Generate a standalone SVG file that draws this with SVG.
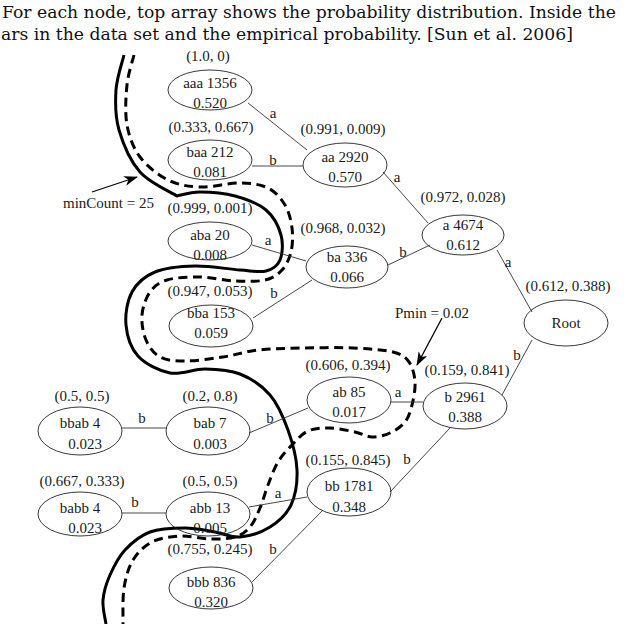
<svg xmlns="http://www.w3.org/2000/svg" width="640" height="624" viewBox="0 0 640 624">
<style>
.hdr{font-family:"DejaVu Serif","Liberation Serif",serif;font-size:17.2px;fill:#111}
.t{font-family:"Liberation Serif","Times New Roman",serif;font-size:15px;fill:#1a1a1a;text-anchor:middle}
.ann{font-family:"Liberation Serif","Times New Roman",serif;font-size:15px;fill:#1a1a1a}
.node ellipse{fill:none;stroke:#222;stroke-width:0.9}
.edge{stroke:#333;stroke-width:0.9;fill:none}
.thick{fill:none;stroke:#000;stroke-width:3;stroke-linecap:butt}
.dash{stroke-dasharray:9 5.5}
.arr{stroke:#000;stroke-width:1.3;fill:none;marker-end:url(#ah)}
</style>
<defs>
<marker id="ah" viewBox="0 0 14 10" refX="13" refY="5" markerWidth="14" markerHeight="10" markerUnits="userSpaceOnUse" orient="auto">
<path d="M0,0 L14,5 L0,10 L4,5 Z" fill="#000"/>
</marker>
</defs>
<rect width="640" height="624" fill="#fff"/>
<g id="caption">
<text class="hdr" x="2" y="18">For each node, top array shows the probability distribution. Inside the</text>
<text class="hdr" x="1" y="40">ars in the data set and the empirical probability. [Sun et al. 2006]</text>
</g>
<g id="boundaries">
<path class="thick" d="M124,55 C122.7,60.8 116.8,77.5 116,90 C115.2,102.5 115,116.3 119,130 C123,143.7 130.3,161 140,172 C149.7,183 170.8,192 177,196 C180.8,195.3 190.3,192 200,192 C209.7,192 224,193 235,196 C246,199 258.3,203.5 266,210 C273.7,216.5 278.7,226.7 281,235 C283.3,243.3 282.5,254 280,260 C277.5,266 272.7,269.3 266,271 C259.3,272.7 251.8,270.8 240,270 C228.2,269.2 209.2,265.7 195,266 C180.8,266.3 165.5,267.7 155,272 C144.5,276.3 136.8,283.2 132,292 C127.2,300.8 125,314.3 126,325 C127,335.7 130.7,348 138,356 C145.3,364 158.8,370.8 170,373 C181.2,375.2 193.3,368.8 205,369 C216.7,369.2 229.2,369.7 240,374 C250.8,378.3 262,385.7 270,395 C278,404.3 283.5,417.5 288,430 C292.5,442.5 296.5,457.5 297,470 C297.5,482.5 295.5,495.5 291,505 C286.5,514.5 278.5,521.7 270,527 C261.5,532.3 249.2,536.2 240,537 C230.8,537.8 224.2,533.5 215,532 C205.8,530.5 195.8,528 185,528 C174.2,528 160,528.3 150,532 C140,535.7 131.7,542.8 125,550 C118.3,557.2 113.7,566.7 110,575 C106.3,583.3 103.7,591.8 103,600 C102.3,608.2 105.5,620 106,624"/>
<path class="thick dash" d="M134,55 C132.8,60 128.2,73.3 127,85 C125.8,96.7 124.8,113 127,125 C129.2,137 133.2,147.8 140,157 C146.8,166.2 158,175 168,180 C178,185 188,186.5 200,187 C212,187.5 228.7,182.8 240,183 C251.3,183.2 260.5,184.3 268,188 C275.5,191.7 281,198.3 285,205 C289,211.7 291,220.2 292,228 C293,235.8 292.7,245 291,252 C289.3,259 286.3,265.3 282,270 C277.7,274.7 272.8,278.2 265,280 C257.2,281.8 245.8,281.5 235,281 C224.2,280.5 211.3,277.2 200,277 C188.7,276.8 175.3,277.5 167,280 C158.7,282.5 154.2,286.2 150,292 C145.8,297.8 142.7,307 142,315 C141.3,323 143,333 146,340 C149,347 153.5,353.5 160,357 C166.5,360.5 174.5,361 185,361 C195.5,361 210.8,358.8 223,357 C235.2,355.2 244.7,351.5 258,350 C271.3,348.5 287.2,348.3 303,348 C318.8,347.7 338,347.3 353,348 C368,348.7 383.7,349.7 393,352 C402.3,354.3 405.3,357 409,362 C412.7,367 414.5,374.8 415,382 C415.5,389.2 413.7,398.3 412,405 C410.3,411.7 408.7,417.3 405,422 C401.3,426.7 395.5,430.5 390,433 C384.5,435.5 377.8,437.2 372,437 C366.2,436.8 362,433.5 355,432 C348,430.5 337.8,428.2 330,428 C322.2,427.8 314.3,428.2 308,431 C301.7,433.8 297,439.8 292,445 C287,450.2 282,455.3 278,462 C274,468.7 271,477.3 268,485 C265,492.7 263,501 260,508 C257,515 254.2,522.2 250,527 C245.8,531.8 241.7,535 235,537 C228.3,539 219.2,539.2 210,539 C200.8,538.8 189.7,535.5 180,536 C170.3,536.5 159.8,538 152,542 C144.2,546 137.7,552.3 133,560 C128.3,567.7 125.7,577.3 124,588 C122.3,598.7 123.2,618 123,624"/>
</g>
<g id="annotations">
<line class="arr" x1="92" y1="192" x2="137" y2="177"/>
<text class="ann" x="63" y="208">minCount = 25</text>
<line class="arr" x1="442" y1="318" x2="417" y2="365"/>
<text class="ann" x="395" y="318">Pmin = 0.02</text>
</g>
<g id="connectors">
<line class="edge" x1="248" y1="103" x2="307" y2="150"/>
<text class="t" x="273" y="118">a</text>
<line class="edge" x1="252" y1="166" x2="303" y2="166"/>
<text class="t" x="273" y="165">b</text>
<line class="edge" x1="383" y1="172" x2="428" y2="223"/>
<text class="t" x="397" y="182">a</text>
<line class="edge" x1="388" y1="265" x2="430" y2="245"/>
<text class="t" x="403" y="257">b</text>
<line class="edge" x1="497" y1="250" x2="532" y2="312"/>
<text class="t" x="508" y="267">a</text>
<line class="edge" x1="532" y1="340" x2="502" y2="395"/>
<text class="t" x="517" y="360">b</text>
<line class="edge" x1="252" y1="245" x2="306" y2="261"/>
<text class="t" x="268" y="245">a</text>
<line class="edge" x1="253" y1="318" x2="312" y2="280"/>
<text class="t" x="274" y="298">b</text>
<line class="edge" x1="249" y1="433" x2="308" y2="408"/>
<text class="t" x="270" y="423">b</text>
<line class="edge" x1="122" y1="428" x2="167" y2="428"/>
<text class="t" x="142" y="423">b</text>
<line class="edge" x1="122" y1="513" x2="166" y2="513"/>
<text class="t" x="135" y="507">b</text>
<line class="edge" x1="249" y1="507" x2="307" y2="497"/>
<text class="t" x="278" y="498">a</text>
<line class="edge" x1="252" y1="582" x2="323" y2="510"/>
<text class="t" x="273" y="554">b</text>
<line class="edge" x1="391" y1="402" x2="423" y2="402"/>
<text class="t" x="398" y="397">a</text>
<line class="edge" x1="390" y1="492" x2="450" y2="428"/>
<text class="t" x="407" y="464">b</text>
</g>
<g id="n-aaa" class="node"><ellipse cx="210" cy="90" rx="42" ry="20"/><text class="t" x="208" y="61">(1.0, 0)</text><text class="t" x="210" y="88">aaa 1356</text><text class="t" x="210" y="108">0.520</text></g>
<g id="n-baa" class="node"><ellipse cx="210" cy="160" rx="42" ry="20"/><text class="t" x="211" y="132">(0.333, 0.667)</text><text class="t" x="210" y="157">baa 212</text><text class="t" x="210" y="177">0.081</text></g>
<g id="n-aba" class="node"><ellipse cx="210" cy="241" rx="42" ry="19"/><text class="t" x="210" y="213">(0.999, 0.001)</text><text class="t" x="210" y="240">aba 20</text><text class="t" x="210" y="260">0.008</text></g>
<g id="n-bba" class="node"><ellipse cx="211" cy="326" rx="42" ry="21"/><text class="t" x="210" y="296">(0.947, 0.053)</text><text class="t" x="211" y="318">bba 153</text><text class="t" x="211" y="338">0.059</text></g>
<g id="n-aa" class="node"><ellipse cx="345" cy="165" rx="42" ry="22"/><text class="t" x="343" y="134">(0.991, 0.009)</text><text class="t" x="345" y="162">aa 2920</text><text class="t" x="345" y="182">0.570</text></g>
<g id="n-ba" class="node"><ellipse cx="347" cy="267" rx="41" ry="21"/><text class="t" x="343" y="233">(0.968, 0.032)</text><text class="t" x="347" y="262">ba 336</text><text class="t" x="347" y="282">0.066</text></g>
<g id="n-a" class="node"><ellipse cx="463" cy="235" rx="41" ry="20"/><text class="t" x="463" y="202">(0.972, 0.028)</text><text class="t" x="463" y="230">a 4674</text><text class="t" x="463" y="250">0.612</text></g>
<g id="n-root" class="node"><ellipse cx="566" cy="323" rx="42" ry="23"/><text class="t" x="568" y="291">(0.612, 0.388)</text><text class="t" x="566" y="328">Root</text></g>
<g id="n-b" class="node"><ellipse cx="465" cy="406" rx="42" ry="23"/><text class="t" x="467" y="375">(0.159, 0.841)</text><text class="t" x="465" y="402">b 2961</text><text class="t" x="465" y="422">0.388</text></g>
<g id="n-ab" class="node"><ellipse cx="349" cy="400" rx="42" ry="23"/><text class="t" x="348" y="370">(0.606, 0.394)</text><text class="t" x="349" y="397">ab 85</text><text class="t" x="349" y="417">0.017</text></g>
<g id="n-bb" class="node"><ellipse cx="349" cy="492" rx="42" ry="24"/><text class="t" x="348" y="465">(0.155, 0.845)</text><text class="t" x="349" y="491">bb 1781</text><text class="t" x="349" y="512">0.348</text></g>
<g id="n-bbab" class="node"><ellipse cx="80" cy="431" rx="42" ry="24"/><text class="t" x="82" y="401">(0.5, 0.5)</text><text class="t" x="80" y="428">bbab 4</text><text class="t" x="85" y="449">0.023</text></g>
<g id="n-bab" class="node"><ellipse cx="208" cy="431" rx="42" ry="24"/><text class="t" x="210" y="401">(0.2, 0.8)</text><text class="t" x="210" y="428">bab 7</text><text class="t" x="210" y="449">0.003</text></g>
<g id="n-babb" class="node"><ellipse cx="80" cy="514" rx="42" ry="22"/><text class="t" x="82" y="486">(0.667, 0.333)</text><text class="t" x="80" y="513">babb 4</text><text class="t" x="85" y="533">0.023</text></g>
<g id="n-abb" class="node"><ellipse cx="208" cy="514" rx="42" ry="22"/><text class="t" x="210" y="486">(0.5, 0.5)</text><text class="t" x="210" y="513">abb 13</text><text class="t" x="210" y="533">0.005</text></g>
<g id="n-bbb" class="node"><ellipse cx="211" cy="588" rx="42" ry="21"/><text class="t" x="210" y="554">(0.755, 0.245)</text><text class="t" x="211" y="587">bbb 836</text><text class="t" x="211" y="607">0.320</text></g>
</svg>
